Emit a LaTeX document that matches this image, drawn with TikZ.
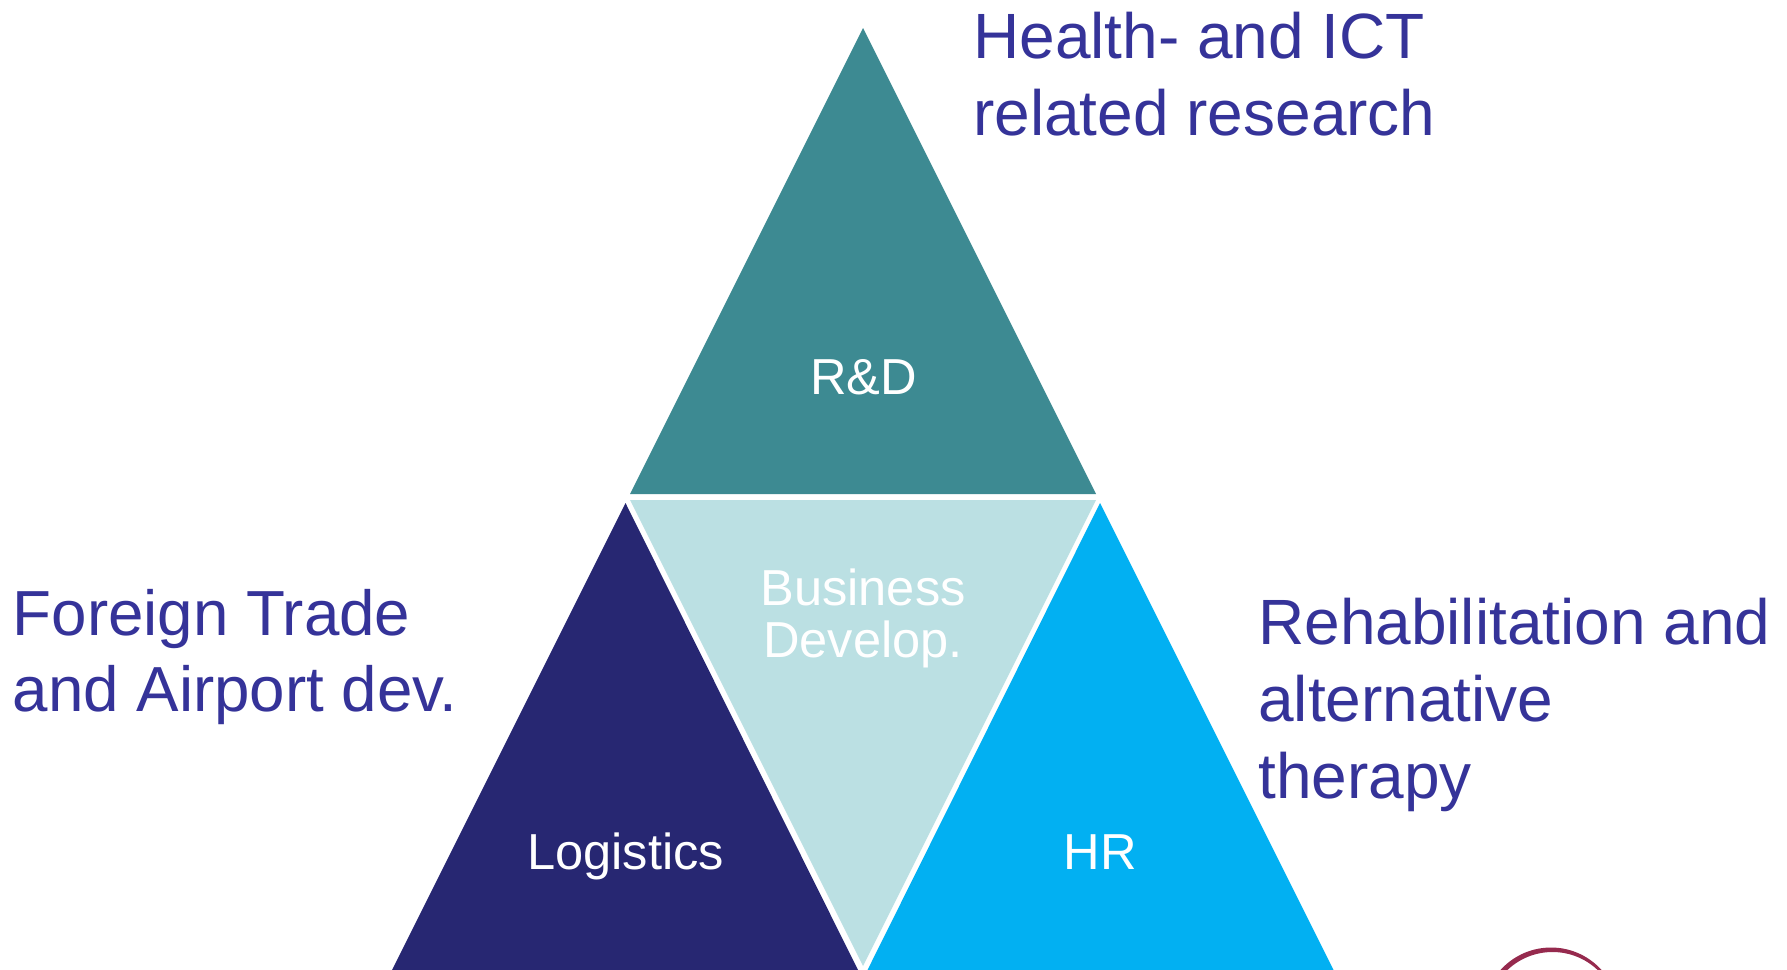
\documentclass[tikz,border=0pt]{standalone}
\usepackage{fontspec}
\setmainfont{Liberation Sans}
\definecolor{tealc}{HTML}{3D8A92}
\definecolor{lightc}{HTML}{BBE0E3}
\definecolor{navyc}{HTML}{272772}
\definecolor{cyanc}{HTML}{02B0F2}
\definecolor{labelc}{HTML}{353399}
\definecolor{ringc}{HTML}{962A4E}
\tikzset{
  bigtext/.style={text=labelc,align=left,inner sep=0pt,anchor=base west,font=\fontsize{64}{77}\selectfont},
  lefttext/.style={bigtext,font=\fontsize{63.7}{77}\selectfont},
  intext/.style={text=white,align=center,inner sep=0pt,anchor=base,font=\fontsize{50.6}{52}\selectfont}
}
\begin{document}
\begin{tikzpicture}[x=1pt,y=-1pt]
\path[use as bounding box] (0,0) rectangle (1787,969);
\fill[fill=white] (0,0) rectangle (1787,969);
\begin{scope}
\clip (0,0) rectangle (1787,969);
\fill[tealc] (863,28) -- (1096,494) -- (630,494) -- cycle;
\fill[lightc] (630,500) -- (1096,500) -- (863,966) -- cycle;
\fill[navyc] (625.5,503) -- (858,970) -- (392,970) -- cycle;
\fill[cyanc] (1100,503) -- (1334,971) -- (867,971) -- cycle;
\fill[ringc,even odd rule] (1551,1015.5) circle[radius=68] (1552.5,1017.5) circle[radius=65.5];
\end{scope}
\node[intext] (rd) at (863.5,394) {R\&D};
\node[intext] (bd) at (863,657) {Business\\Develop.};
\node[intext] (lo) at (625.5,869) {Logistics};
\node[intext] (hr) at (1100.5,869) {HR};
\node[bigtext] (a1) at (973,58) {Health- and ICT};
\node[bigtext] (a2) at (973,135) {related research};
\node[lefttext] (b1) at (12.5,635) {Foreign Trade};
\node[lefttext] (b2) at (12.5,711) {and Airport dev.};
\node[bigtext] (c1) at (1258,644) {Rehabilitation and};
\node[bigtext] (c2) at (1258,721) {alternative};
\node[bigtext] (c3) at (1258,798) {therapy};
\end{tikzpicture}
\end{document}
